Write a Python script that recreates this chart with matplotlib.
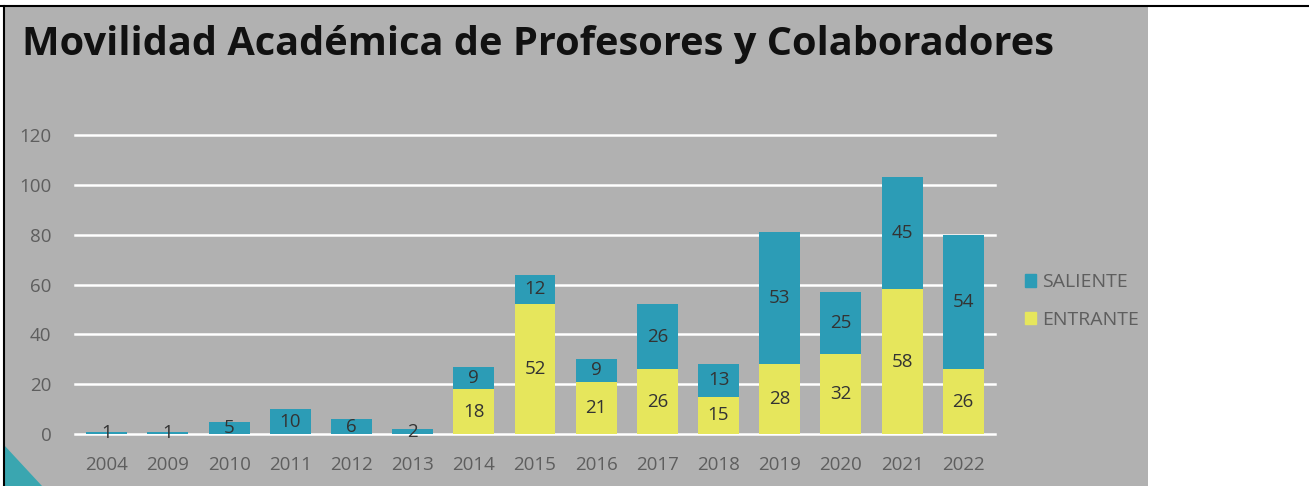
import matplotlib
matplotlib.use("Agg")
import matplotlib.pyplot as plt
from matplotlib.patches import Rectangle, Polygon
from matplotlib.lines import Line2D
import numpy as np

years = ["2004", "2009", "2010", "2011", "2012", "2013", "2014", "2015",
         "2016", "2017", "2018", "2019", "2020", "2021", "2022"]
entrante = [0, 0, 0, 0, 0, 0, 18, 52, 21, 26, 15, 28, 32, 58, 26]
saliente = [1, 1, 5, 10, 6, 2, 9, 12, 9, 26, 13, 53, 25, 45, 54]
yticks = [0, 20, 40, 60, 80, 100, 120]

BG = "#b1b1b1"
TEAL = "#2c9cb6"
YELLOW = "#e6e65c"
TXT = "#5e5e5e"

plt.rcParams['font.family'] = ['Open Sans', 'DejaVu Sans']

W, H = 1309, 486
fig = plt.figure(figsize=(W / 100, H / 100), dpi=100)
fig.patch.set_facecolor("white")

# gray slide background
fig.add_artist(Rectangle((4 / W, 0), (1148 - 4) / W, (H - 7) / H,
                         transform=fig.transFigure, facecolor=BG,
                         edgecolor="none", zorder=0))
# teal corner decoration
fig.add_artist(Polygon([(4 / W, 0), (4 / W, (H - 445) / H), (42 / W, 0)],
                       closed=True, transform=fig.transFigure,
                       facecolor="#3aa6b0", edgecolor="none", zorder=1))
# black border lines
fig.add_artist(Line2D([0, 1], [(H - 6) / H] * 2, transform=fig.transFigure,
                      color="black", lw=1.5))
fig.add_artist(Line2D([4 / W] * 2, [0, (H - 6) / H], transform=fig.transFigure,
                      color="black", lw=1.5))

fig.text(22 / W, (H - 45) / H, "Movilidad Académica de Profesores y Colaboradores",
         fontsize=28.6, fontweight="bold", color="#111111", va="center", ha="left")

ax = fig.add_axes([75 / W, (H - 434) / H, 920 / W, 299 / H])
ax.set_facecolor("none")
x = np.arange(len(years))
bw = 0.67
ax.bar(x, entrante, bw, color=YELLOW, zorder=3, label="ENTRANTE")
ax.bar(x, saliente, bw, bottom=entrante, color=TEAL, zorder=3, label="SALIENTE")

for i in range(len(years)):
    if entrante[i] > 0:
        ax.text(x[i], entrante[i] / 2, str(entrante[i]), ha="center", va="center",
                fontsize=13.5, color="#333333", zorder=4)
    if saliente[i] > 0:
        ax.text(x[i], entrante[i] + saliente[i] / 2, str(saliente[i]), ha="center",
                va="center", fontsize=13.5, color="#333333", zorder=4)

ax.set_xlim(-0.52, len(years) - 0.48)
ax.set_ylim(0, 120)
ax.set_yticks(yticks)
ax.set_xticks(x)
ax.set_xticklabels(years)
ax.yaxis.grid(True, color="white", lw=1.8, zorder=1)
for gl in ax.yaxis.get_gridlines():
    gl.set_clip_on(False)
ax.tick_params(axis="both", length=0, labelsize=13.5, labelcolor=TXT)
ax.tick_params(axis="y", pad=17)
ax.tick_params(axis="x", pad=16)
for s in ax.spines.values():
    s.set_visible(False)

handles = [Rectangle((0, 0), 1, 1, color=TEAL), Rectangle((0, 0), 1, 1, color=YELLOW)]
fig.legend(handles, ["SALIENTE", "ENTRANTE"], loc="center left",
           bbox_to_anchor=(1007 / W, (H - 301) / H), frameon=False,
           fontsize=14, labelcolor=TXT, handlelength=0.6, handleheight=0.6,
           handletextpad=0.3, labelspacing=1.0)

fig.savefig("out.png", dpi=100)
